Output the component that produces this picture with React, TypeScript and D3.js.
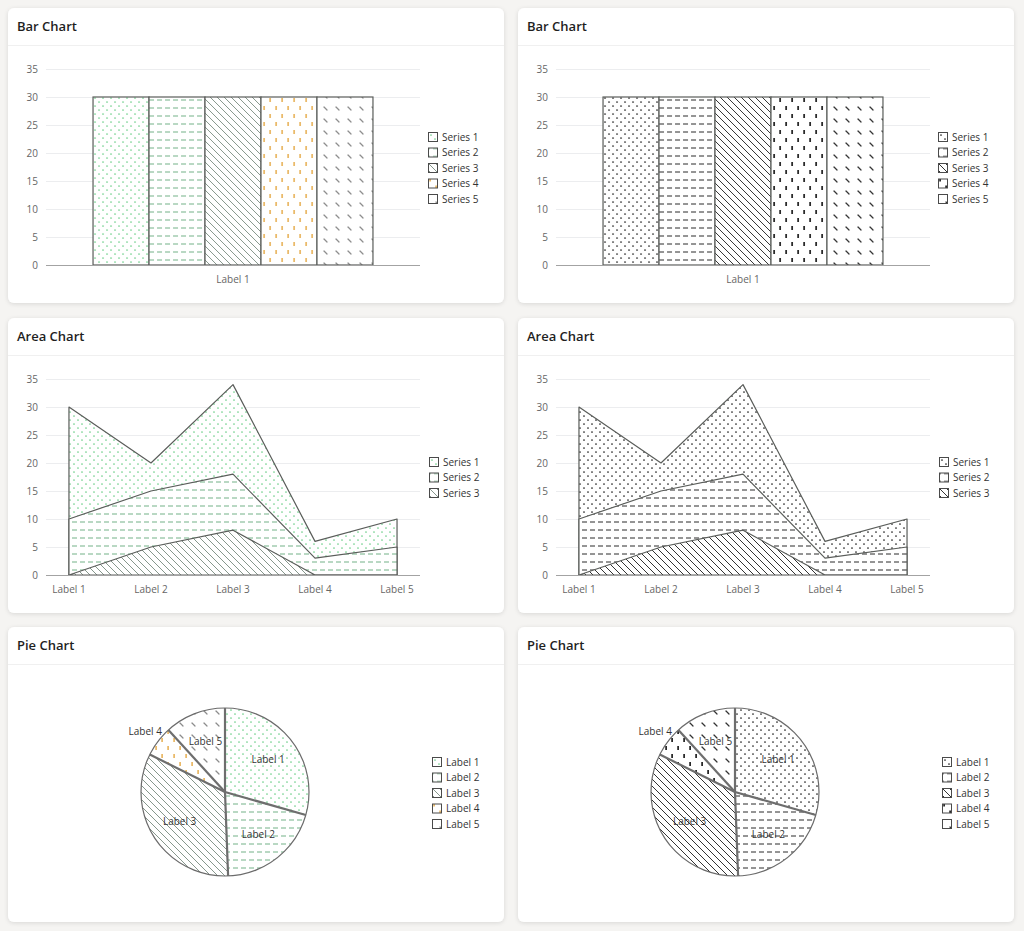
import React from 'react';
import * as d3 from 'd3';

// ---------- data ----------
const barCategories = ['Label 1'];
const barSeriesNames = ['Series 1', 'Series 2', 'Series 3', 'Series 4', 'Series 5'];
const barValues = [30, 30, 30, 30, 30];

const areaLabels = ['Label 1', 'Label 2', 'Label 3', 'Label 4', 'Label 5'];
const areaSeriesNames = ['Series 1', 'Series 2', 'Series 3'];
const areaSeries1 = [30, 20, 34, 6, 10];
const areaSeries2 = [10, 15, 18, 3, 5];
const areaSeries3 = [0, 5, 8, 0, 0];

const pieLabels = ['Label 1', 'Label 2', 'Label 3', 'Label 4', 'Label 5'];
const pieValues = [25, 17, 28, 5, 10];

const yTicks = [0, 5, 10, 15, 20, 25, 30, 35];

const colorPalette = ['#6fcf8b', '#72b287', '#86978c', '#e8b35a', '#8c8c8c'];
const monoPalette = ['#1e1e1e', '#2a2a2a', '#333333', '#111111', '#333333'];

const FONT = '"Open Sans", "Noto Sans", sans-serif';
const AXIS_COLOR = '#666666';
const TEXT_COLOR = '#333333';
const OUTLINE = '#5a5d5a';

// ---------- layout ----------
const CARD_W = 496;
const CARD_H = 295;
const colX = [8, 518];
const rowY = [8, 318, 627];

const plotLeft = 38;
const plotRight = 412;
const plotTop = 61;
const plotBottom = 257;

function Patterns({ prefix, c }: { prefix: string; c: string[] }) {
  return (
    <>
      <pattern id={`${prefix}-p0`} width={8} height={8} patternUnits="userSpaceOnUse">
        <rect width={8} height={8} fill="#fff" />
        <circle cx={2} cy={2} r={0.85} fill={c[0]} />
        <circle cx={6} cy={6} r={0.85} fill={c[0]} />
      </pattern>
      <pattern id={`${prefix}-p1`} width={8} height={8} patternUnits="userSpaceOnUse">
        <rect width={8} height={8} fill="#fff" />
        <line x1={0} x2={5} y1={4} y2={4} stroke={c[1]} strokeWidth={1} />
      </pattern>
      <pattern id={`${prefix}-p2`} width={7} height={7} patternUnits="userSpaceOnUse">
        <rect width={7} height={7} fill="#fff" />
        <path d="M0,0L7,7M-1,6L1,8M6,-1L8,1" stroke={c[2]} strokeWidth={1} />
      </pattern>
      <pattern id={`${prefix}-p3`} width={12} height={16} patternUnits="userSpaceOnUse">
        <rect width={12} height={16} fill="#fff" />
        <rect x={2.3} y={2} width={1.6} height={4} fill={c[3]} />
        <rect x={8.3} y={10} width={1.6} height={4} fill={c[3]} />
      </pattern>
      <pattern id={`${prefix}-p4`} width={12} height={12} patternUnits="userSpaceOnUse">
        <rect width={12} height={12} fill="#fff" />
        <path d="M3,3L6,6" stroke={c[4]} strokeWidth={1.2} strokeLinecap="round" />
      </pattern>
    </>
  );
}

function Card({ x, y, title, children }: { x: number; y: number; title: string; children?: any }) {
  return (
    <g transform={`translate(${x},${y})`}>
      <rect width={CARD_W} height={CARD_H} rx={6} fill="#fff" filter="url(#shadow)" />
      <text x={9} y={23} fontFamily={FONT} fontSize={13} fontWeight={600} fill="#1f1f1f">
        {title}
      </text>
      <line x1={0} x2={CARD_W} y1={37.5} y2={37.5} stroke="#f0f0f0" strokeWidth={1} />
      {children}
    </g>
  );
}

const yScale = d3.scaleLinear().domain([0, 35]).range([plotBottom, plotTop]);

function YAxis() {
  return (
    <g>
      {yTicks.map((t) => (
        <g key={t}>
          {t !== 0 && (
            <line x1={plotLeft} x2={plotRight} y1={yScale(t) + 0.5} y2={yScale(t) + 0.5} stroke="#ecedef" />
          )}
          <text
            x={plotLeft - 8}
            y={yScale(t)}
            dy="0.35em"
            textAnchor="end"
            fontFamily={FONT}
            fontSize={10}
            fill={AXIS_COLOR}
          >
            {t}
          </text>
        </g>
      ))}
    </g>
  );
}

function Baseline() {
  return <line x1={plotLeft} x2={plotRight} y1={plotBottom + 0.5} y2={plotBottom + 0.5} stroke="#a3a3a3" strokeWidth={1} />;
}

function Legend({ x, y, names, prefix, step }: { x: number; y: number; names: string[]; prefix: string; step: number }) {
  return (
    <g>
      {names.map((n, i) => (
        <g key={n} transform={`translate(${x},${y + i * step})`}>
          <rect x={-4.5} y={-4.5} width={9} height={9} fill={`url(#${prefix}-p${i})`} stroke="#4a4a4a" strokeWidth={1} />
          <text x={9} y={0} dy="0.35em" fontFamily={FONT} fontSize={10} fill={TEXT_COLOR}>
            {n}
          </text>
        </g>
      ))}
    </g>
  );
}

function BarChart({ prefix }: { prefix: string }) {
  const x0 = d3.scaleBand<string>().domain(barCategories).range([plotLeft, plotRight]).paddingInner(0).paddingOuter(0.168);
  const x1 = d3.scaleBand<string>().domain(barSeriesNames).range([0, x0.bandwidth()]);
  return (
    <g>
      <YAxis />
      {barCategories.map((cat) => (
        <g key={cat} transform={`translate(${x0(cat)},0)`}>
          {barSeriesNames.map((s, i) => (
            <rect
              key={s}
              x={x1(s)}
              y={yScale(barValues[i])}
              width={x1.bandwidth()}
              height={yScale(0) - yScale(barValues[i])}
              fill={`url(#${prefix}-p${i})`}
              stroke={OUTLINE}
              strokeWidth={1.2}
            />
          ))}
          <text
            x={x0.bandwidth() / 2}
            y={plotBottom + 18}
            textAnchor="middle"
            fontFamily={FONT}
            fontSize={10}
            fill={AXIS_COLOR}
          >
            {cat}
          </text>
        </g>
      ))}
      <Baseline />
      <Legend x={425} y={129} names={barSeriesNames} prefix={prefix} step={15.5} />
    </g>
  );
}

function AreaChart({ prefix }: { prefix: string }) {
  const x = d3.scalePoint<string>().domain(areaLabels).range([plotLeft, plotRight]).padding(0.28);
  const series = [areaSeries1, areaSeries2, areaSeries3];
  const area = d3
    .area<number>()
    .x((_, i) => x(areaLabels[i]) as number)
    .y0(yScale(0))
    .y1((d) => yScale(d));
  return (
    <g>
      <YAxis />
      {series.map((vals, i) => (
        <path key={i} d={area(vals) as string} fill={`url(#${prefix}-p${i})`} stroke={OUTLINE} strokeWidth={1.2} strokeLinejoin="round" />
      ))}
      <Baseline />
      {areaLabels.map((l) => (
        <text key={l} x={x(l)} y={plotBottom + 18} textAnchor="middle" fontFamily={FONT} fontSize={10} fill={AXIS_COLOR}>
          {l}
        </text>
      ))}
      <Legend x={426} y={144} names={areaSeriesNames} prefix={prefix} step={15.5} />
    </g>
  );
}

function PieChart({ prefix }: { prefix: string }) {
  const cx = 217;
  const cy = 165;
  const R = 84;
  const pie = d3.pie<number>().sort(null).value((d) => d);
  const arcs = pie(pieValues);
  const arc = d3.arc<d3.PieArcDatum<number>>().innerRadius(0).outerRadius(R);
  return (
    <g>
      <g transform={`translate(${cx},${cy})`}>
        {arcs.map((a, i) => (
          <path key={i} d={arc(a) as string} fill={`url(#${prefix}-p${i})`} stroke="none" />
        ))}
        <circle r={R} fill="none" stroke="#6b6b6b" strokeWidth={1.2} />
        {arcs.map((a, i) => (
          <line
            key={'l' + i}
            x1={0}
            y1={0}
            x2={R * Math.sin(a.startAngle)}
            y2={-R * Math.cos(a.startAngle)}
            stroke="#6e6e6e"
            strokeWidth={2.2}
          />
        ))}
        {arcs.map((a, i) => {
          const mid = (a.startAngle + a.endAngle) / 2;
          const small = a.endAngle - a.startAngle < 0.5;
          const r = small ? 100 : 54;
          return (
            <text
              key={'t' + i}
              x={r * Math.sin(mid)}
              y={-r * Math.cos(mid)}
              dy="0.35em"
              textAnchor="middle"
              fontFamily={FONT}
              fontSize={10}
              fill={TEXT_COLOR}
            >
              {pieLabels[i]}
            </text>
          );
        })}
      </g>
      <Legend x={429} y={135} names={pieLabels} prefix={prefix} step={15.5} />
    </g>
  );
}

export default function App() {
  return (
    <svg
      width={1024}
      height={931}
      style={{ position: 'absolute', left: 0, top: 0, display: 'block' }}
      fontFamily={FONT}
    >
      <defs>
        <filter id="shadow" x="-5%" y="-5%" width="110%" height="115%">
          <feDropShadow dx={0} dy={1} stdDeviation={2} floodColor="#000" floodOpacity={0.12} />
        </filter>
        <Patterns prefix="c" c={colorPalette} />
        <Patterns prefix="m" c={monoPalette} />
      </defs>
      <rect width={1024} height={931} fill="#f5f4f2" />
      {[
        { prefix: 'c', x: colX[0] },
        { prefix: 'm', x: colX[1] },
      ].map((col) => (
        <g key={col.prefix}>
          <Card x={col.x} y={rowY[0]} title="Bar Chart">
            <BarChart prefix={col.prefix} />
          </Card>
          <Card x={col.x} y={rowY[1]} title="Area Chart">
            <AreaChart prefix={col.prefix} />
          </Card>
          <Card x={col.x} y={rowY[2]} title="Pie Chart">
            <PieChart prefix={col.prefix} />
          </Card>
        </g>
      ))}
    </svg>
  );
}
